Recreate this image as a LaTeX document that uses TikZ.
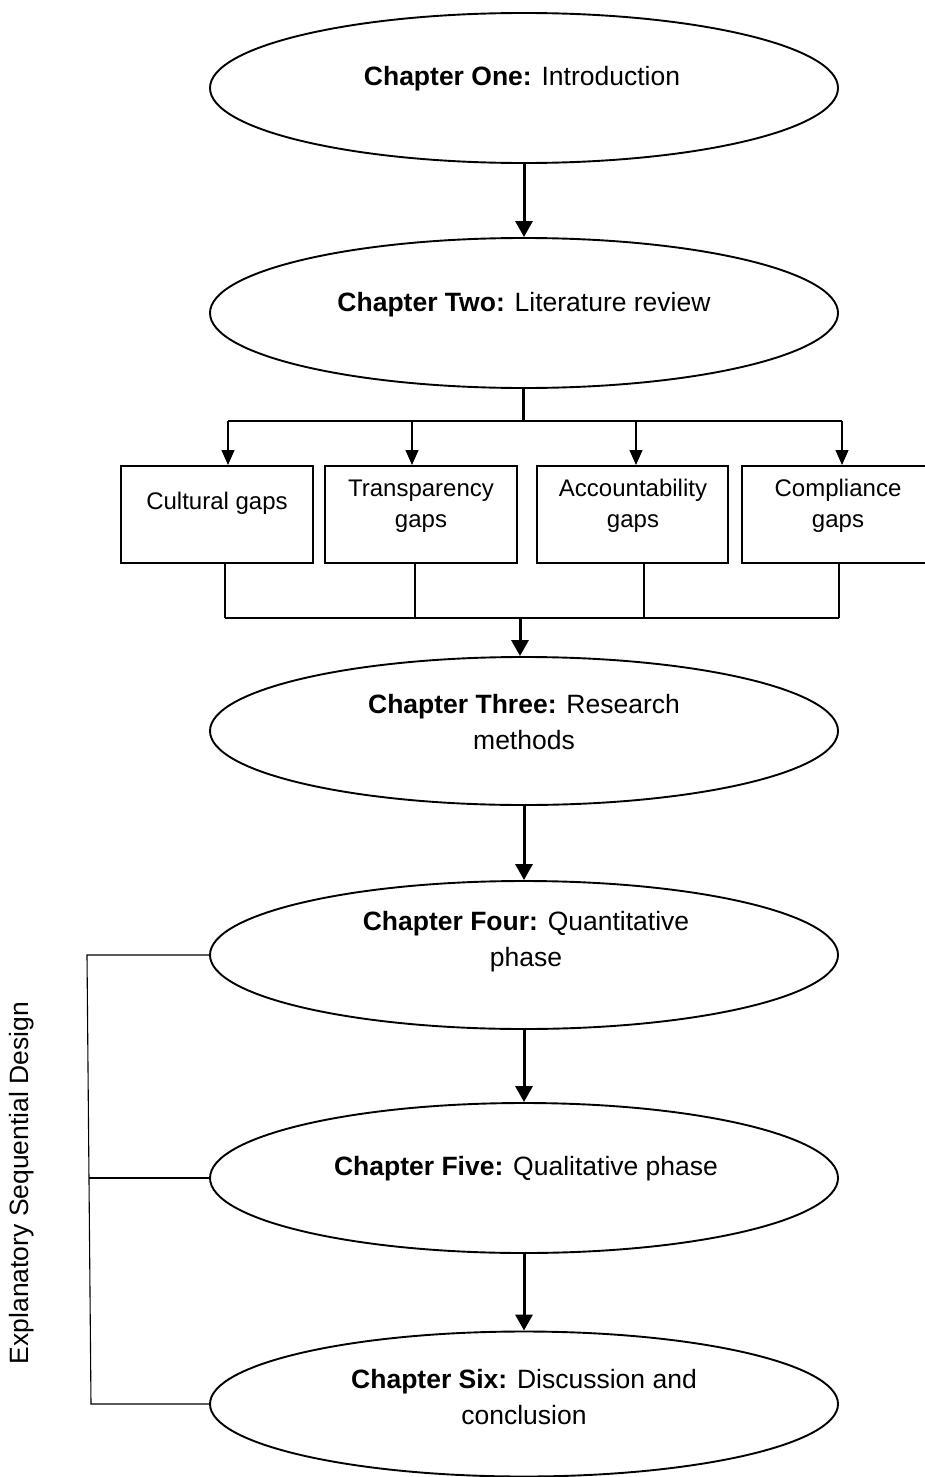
\documentclass[tikz,border=0pt]{standalone}
\usepackage{fontspec}
\setmainfont{Liberation Sans}
\usetikzlibrary{shapes.geometric,arrows.meta}

\begin{document}
\begin{tikzpicture}[x=1pt,y=-1pt,
  chapter/.style={ellipse,draw,line width=1.9pt,minimum width=628pt,minimum height=150pt,inner sep=0pt},
  chaptext/.style={align=center,font=\fontsize{26.5}{36}\selectfont,inner sep=0pt},
  gapbox/.style={rectangle,draw,line width=2pt,minimum width=192pt,minimum height=97pt,inner sep=0pt},
  gaptext/.style={align=center,font=\fontsize{24}{31}\selectfont,inner sep=0pt},
  flow/.style={line width=3pt,-{Triangle[length=16pt,width=17pt]}},
  trunk/.style={line width=3pt},
  branch/.style={line width=1.1pt,-{Triangle[length=15pt,width=13pt]}},
  rail/.style={line width=1.1pt}]

\useasboundingbox (0,0) rectangle (924,1477);

% chapter ellipses
\node[chapter] (c1) at (524,88) {};
\node[chapter] (c2) at (524,313) {};
\node[chapter,minimum height=148pt] (c3) at (524,731) {};
\node[chapter,minimum height=148pt] (c4) at (524,955) {};
\node[chapter] (c5) at (524,1178) {};
\node[chapter,minimum height=145pt] (c6) at (524,1404) {};

\node[chaptext] (t1) at (522,79) {\textbf{Chapter One:} Introduction};
\node[chaptext] (t2) at (524,305) {\textbf{Chapter Two:} Literature review};
\node[chaptext] (t3) at (524,722) {\textbf{Chapter Three:} Research\\methods};
\node[chaptext] (t4) at (526,942) {\textbf{Chapter Four:} Quantitative\\phase};
\node[chaptext] (t5) at (526,1169) {\textbf{Chapter Five:} Qualitative phase};
\node[chaptext] (t6) at (524,1397) {\textbf{Chapter Six:} Discussion and\\conclusion};

% gap boxes
\node[gapbox] (b1) at (217,514.5) {};
\node[gapbox] (b2) at (421,514.5) {};
\node[gapbox,minimum width=191pt] (b3) at (632.5,514.5) {};
\node[gapbox] (b4) at (838,514.5) {};

\node[gaptext] (g1) at (217,503) {Cultural gaps};
\node[gaptext] (g2) at (421,506) {Transparency\\gaps};
\node[gaptext] (g3) at (633,506) {Accountability\\gaps};
\node[gaptext] (g4) at (838,506) {Compliance\\gaps};

% main flow
\draw[flow] (c1) -- (c2);
\draw[flow] (c3) -- (c4);
\draw[flow] (c4) -- (c5);
\draw[flow] (c5) -- (c6);

% fan-out to the gaps
\coordinate (j1) at (523,421);
\coordinate (a1) at (228,421);
\coordinate (a2) at (412,421);
\coordinate (a3) at (636,421);
\coordinate (a4) at (842,421);
\draw[trunk] (c2.south -| j1) -- (j1);
\draw[rail] (a1) -- (a4);
\draw[branch] (a1) -- (a1 |- b1.north);
\draw[branch] (a2) -- (a2 |- b2.north);
\draw[branch] (a3) -- (a3 |- b3.north);
\draw[branch] (a4) -- (a4 |- b4.north);

% fan-in to chapter three
\coordinate (d1) at (225,618);
\coordinate (d2) at (415,618);
\coordinate (d3) at (644,618);
\coordinate (d4) at (839,618);
\coordinate (j2) at (520,618);
\draw[rail] (d1 |- b1.south) -- (d1);
\draw[rail] (d2 |- b2.south) -- (d2);
\draw[rail] (d3 |- b3.south) -- (d3);
\draw[rail] (d4 |- b4.south) -- (d4);
\draw[rail] (d1) -- (d4);
\draw[flow] (j2) -- (j2 |- c3.north);

% explanatory sequential design bracket
\coordinate (k1) at (87,955);
\coordinate (k2) at (89,1178);
\coordinate (k3) at (91,1404);
\draw[rail] (c4.west) -- (k1) -- (k3) -- (c6.west);
\draw[rail] (k2) -- (c5.west);
\node[font=\fontsize{26.5}{32}\selectfont,rotate=90,inner sep=0pt] (esd) at (22,1183) {Explanatory Sequential Design};

\end{tikzpicture}
\end{document}
